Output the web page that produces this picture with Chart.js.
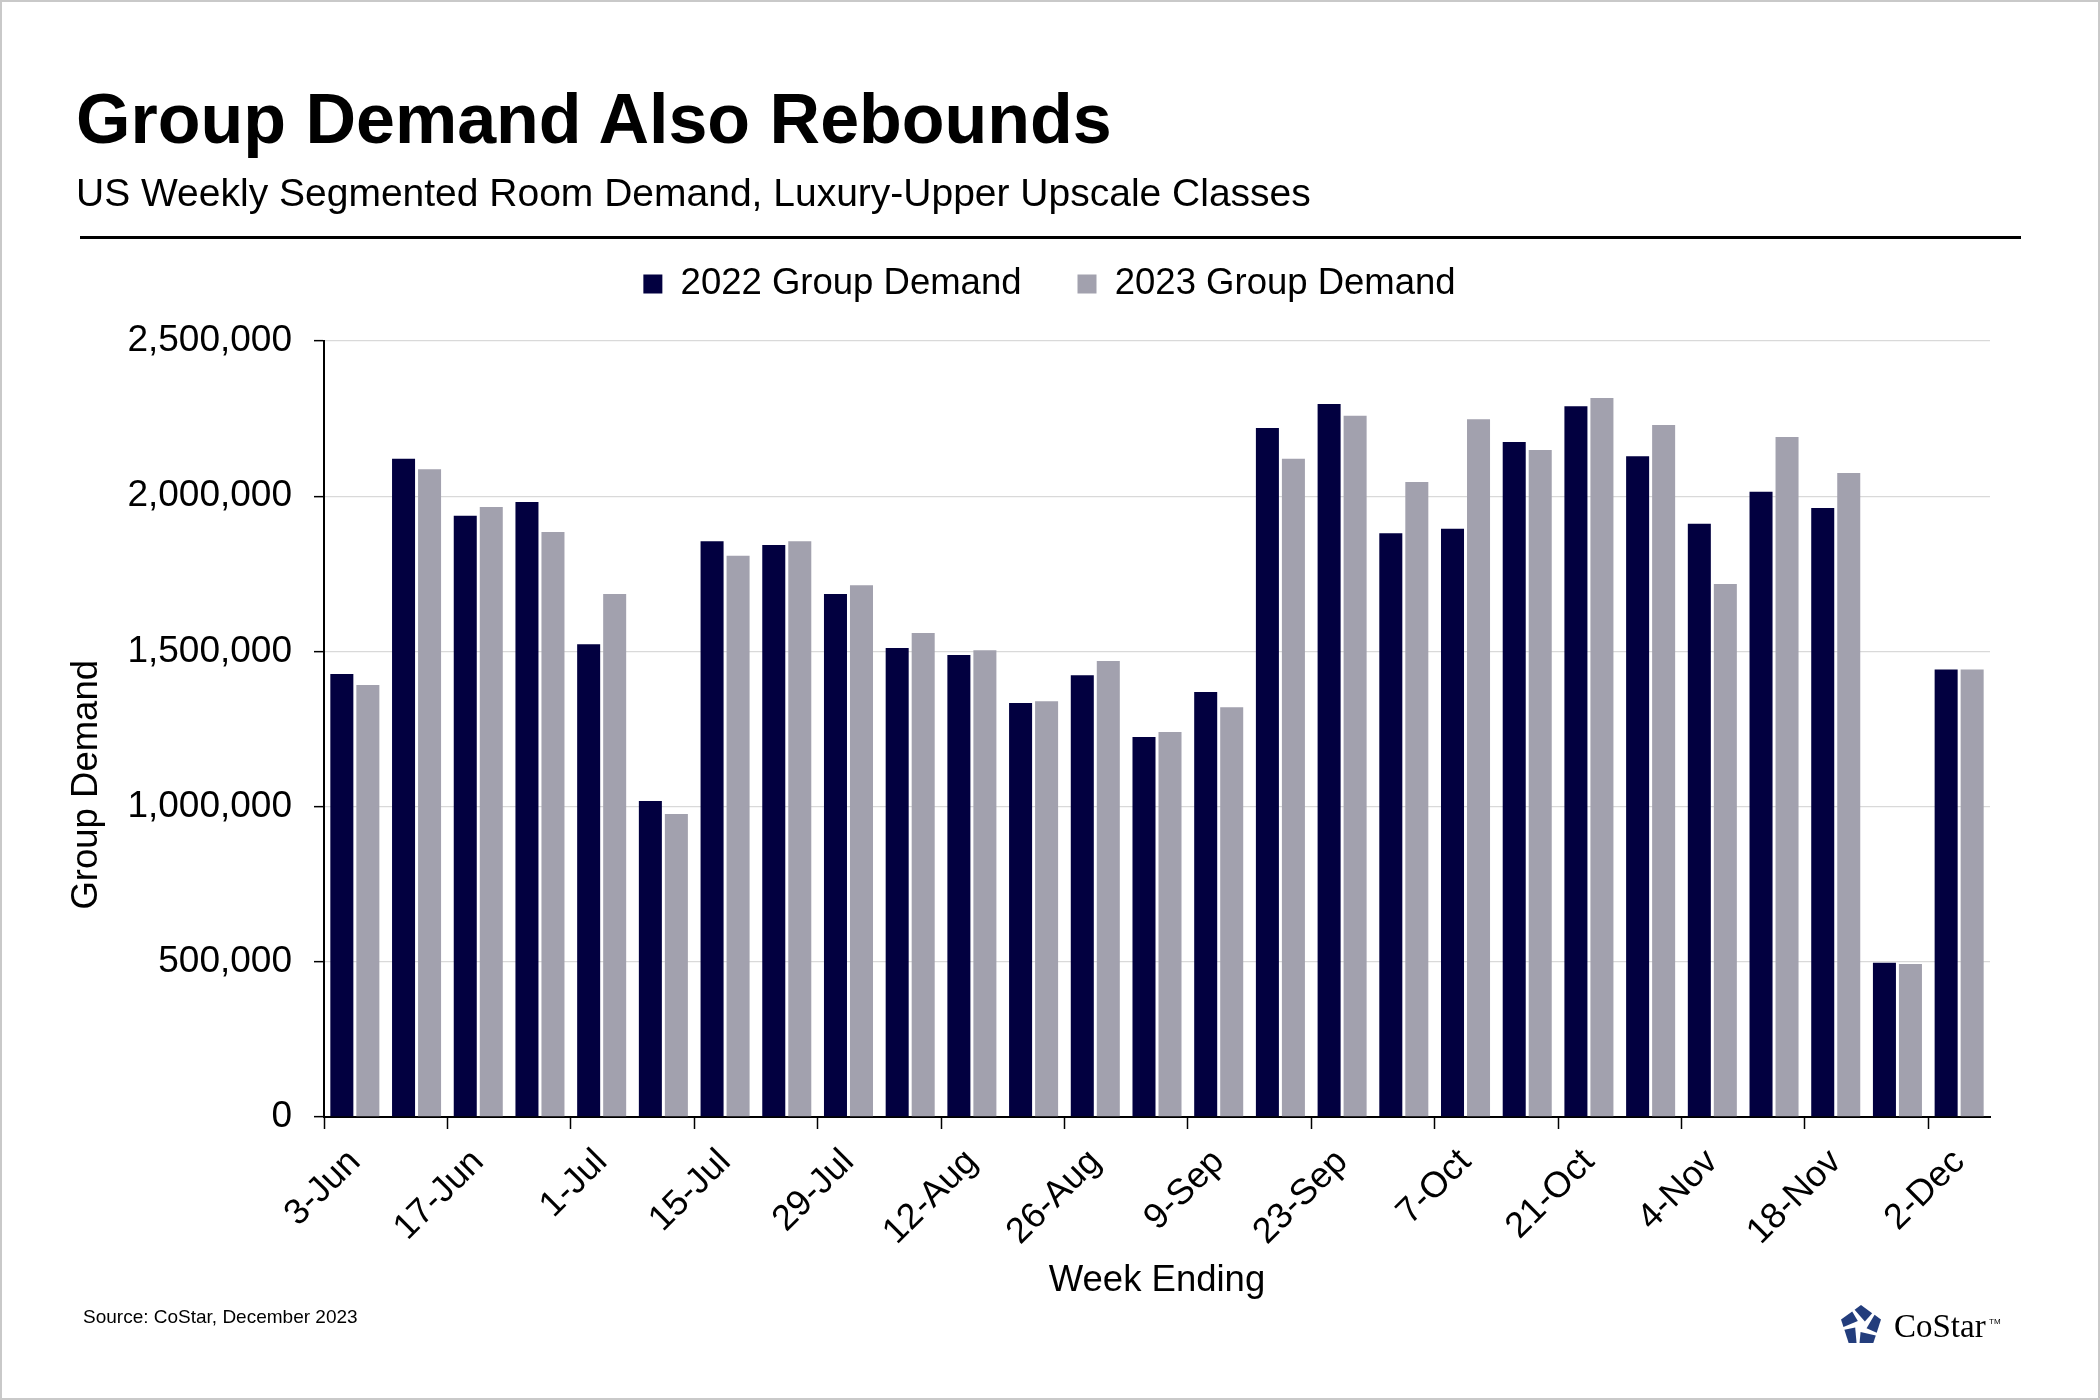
<!DOCTYPE html>
<html>
<head>
<meta charset="utf-8">
<script src="https://cdn.jsdelivr.net/npm/chart.js@4.4.1/dist/chart.umd.min.js"></script>
<style>
  html, body { margin: 0; padding: 0; background: #fff; }
  body { width: 2100px; height: 1400px; position: relative; overflow: hidden; font-family: 'Liberation Sans', Arial, sans-serif; color: #000; }
  #chart { position: absolute; left: 0; top: 0; }
  .txt { position: absolute; line-height: 1; white-space: nowrap; }
  #title { left: 76px; top: 84px; font-size: 70px; font-weight: bold; }
  #subtitle { left: 76px; top: 173px; font-size: 39px; }
  #rule { position: absolute; left: 80px; top: 236px; width: 1941px; height: 3px; background: #000; }
  #source { left: 83px; top: 1307px; font-size: 19px; }
  #logo { position: absolute; left: 1839px; top: 1304px; }
  #brand { left: 1894px; top: 1310px; font-family: 'Liberation Serif', 'DejaVu Serif', serif; font-size: 33px; }
  #tm { left: 1989px; top: 1318px; font-size: 8px; }
  #frame { position: absolute; inset: 0; border: 2px solid #c9c9c9; box-sizing: border-box; pointer-events: none; }
</style>
</head>
<body>
<canvas id="chart" width="2100" height="1400"></canvas>
<div class="txt" id="title">Group Demand Also Rebounds</div>
<div class="txt" id="subtitle">US Weekly Segmented Room Demand, Luxury-Upper Upscale Classes</div>
<div id="rule"></div>
<div class="txt" id="source">Source: CoStar, December 2023</div>
<svg id="logo" width="44" height="44" viewBox="0 0 44 44"></svg>
<div class="txt" id="brand">CoStar</div>
<div class="txt" id="tm">TM</div>
<div id="frame"></div>
<script>
const weeks = ['3-Jun', '10-Jun', '17-Jun', '24-Jun', '1-Jul', '8-Jul', '15-Jul', '22-Jul', '29-Jul',
  '5-Aug', '12-Aug', '19-Aug', '26-Aug', '2-Sep', '9-Sep', '16-Sep', '23-Sep', '30-Sep', '7-Oct',
  '14-Oct', '21-Oct', '28-Oct', '4-Nov', '11-Nov', '18-Nov', '25-Nov', '2-Dec'];

const demand2022 = [1427000, 2121000, 1937000, 1981000, 1523000, 1018000, 1855000, 1843000, 1685000,
  1511000, 1488000, 1334000, 1423000, 1224000, 1369000, 2220000, 2297000, 1881000, 1895000,
  2175000, 2290000, 2129000, 1911000, 2014000, 1962000, 497000, 1442000];

const demand2023 = [1392000, 2087000, 1965000, 1885000, 1685000, 976000, 1808000, 1855000, 1713000,
  1559000, 1504000, 1339000, 1469000, 1240000, 1320000, 2121000, 2259000, 2046000, 2248000,
  2149000, 2316000, 2229000, 1717000, 2191000, 2075000, 493000, 1442000];

const yMin = 0;
const yMax = 2500000;
const yStep = 500000;

const navy = '#020040';
const grey = '#a2a1ae';

// little pinwheel for the CoStar mark
(function drawLogo() {
    const svg = document.getElementById('logo');
    const cx = 22, cy = 22, R = 21, r = 6;
    const pt = k => {
        const a = (-90 + 72 * k) * Math.PI / 180;
        return [cx + R * Math.cos(a), cy + R * Math.sin(a)];
    };
    const lerp = (p, q, t) => [p[0] + (q[0] - p[0]) * t, p[1] + (q[1] - p[1]) * t];
    let html = '';
    for (let k = 0; k < 5; k++) {
        const prev = pt(k - 1), cur = pt(k), next = pt(k + 1);
        const a = (-90 + 72 * k + 40) * Math.PI / 180;
        const inner = [cx + r * Math.cos(a), cy + r * Math.sin(a)];
        const pts = [lerp(prev, cur, 0.68), cur, lerp(cur, next, 0.56), inner];
        html += `<polygon points="${pts.map(p => p.join(',')).join(' ')}" fill="#233d7c"/>`;
    }
    svg.innerHTML = html;
})();

Chart.defaults.font.family = "'Liberation Sans', Arial, sans-serif";
Chart.defaults.color = '#000';

// the axis title sits a bit below the middle in the original
const yTitle = 'Group Demand' + '\u00A0'.repeat(11);

new Chart(document.getElementById('chart'), {
    type: 'bar',
    data: {
        labels: weeks,
        datasets: [
            { label: '2022 Group Demand', data: demand2022, backgroundColor: navy },
            { label: '2023 Group Demand', data: demand2023, backgroundColor: grey }
        ]
    },
    options: {
        responsive: false,
        animation: false,
        devicePixelRatio: 1,
        layout: { padding: { top: 209.75, left: 109, right: 110, bottom: 97 } },
        datasets: {
            bar: { categoryPercentage: 0.843, barPercentage: 0.885 }
        },
        plugins: {
            legend: {
                position: 'top',
                labels: {
                    font: { size: 36.5 },
                    boxWidth: 19,
                    boxHeight: 19,
                    padding: 56,
                    color: '#000'
                }
            },
            // empty block that keeps a gap between legend and plot
            subtitle: {
                display: true,
                text: '',
                weight: 500,
                font: { size: 1, lineHeight: 1 },
                padding: { top: 0, bottom: 27.75 }
            },
            tooltip: { enabled: false }
        },
        scales: {
            x: {
                afterFit: s => { s.height = 186; },
                grid: {
                    drawOnChartArea: false,
                    tickLength: 12,
                    tickWidth: 1.5,
                    tickColor: ctx => (ctx.index % 2 === 0 ? '#000' : 'rgba(0,0,0,0)')
                },
                border: { color: '#000', width: 2 },
                ticks: {
                    autoSkip: false,
                    minRotation: 45,
                    maxRotation: 45,
                    padding: 12,
                    font: { size: 36 },
                    callback: (v, i) => (i % 2 === 0 ? weeks[i] : '')
                },
                title: {
                    display: true,
                    text: 'Week Ending',
                    font: { size: 36.5 },
                    padding: 0
                }
            },
            y: {
                min: yMin,
                max: yMax,
                afterFit: s => { s.width = 215; },
                grid: {
                    color: '#d9d9d9',
                    lineWidth: 1.3,
                    tickLength: 10,
                    tickColor: '#000',
                    tickWidth: 1.5
                },
                border: { color: '#000', width: 2 },
                ticks: {
                    stepSize: yStep,
                    padding: 22,
                    font: { size: 37 },
                    callback: v => v.toLocaleString('en-US')
                },
                title: {
                    display: true,
                    text: yTitle,
                    font: { size: 36.5 },
                    padding: { top: -44, bottom: 0 }
                }
            }
        }
    }
});
</script>
</body>
</html>
